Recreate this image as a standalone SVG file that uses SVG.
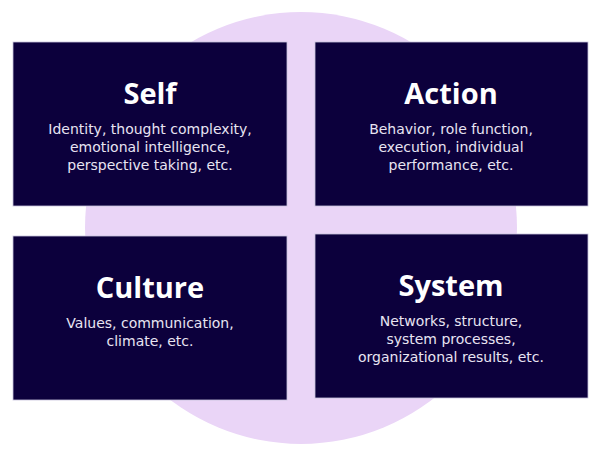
<svg xmlns="http://www.w3.org/2000/svg" width="600" height="455" viewBox="0 0 600 455">
<style>
.box{fill:#0c003c;stroke:#c9c3dc;stroke-width:0.8}
.t{font-family:"Open Sans","Liberation Sans",sans-serif;font-weight:bold;font-size:29px;fill:#fff;text-anchor:middle}
.b{font-family:"DejaVu Sans","Liberation Sans",sans-serif;font-size:14px;fill:#e8e4f2;text-anchor:middle}
</style>
<rect width="600" height="455" fill="#fff"/>
<circle cx="301" cy="228" r="216" fill="#ead5f7"/>
<g id="self"><rect class="box" x="13" y="42" width="274" height="164"/>
<text class="t" x="150" y="104">Self</text>
<text class="b" x="150" y="134">Identity, thought complexity,</text>
<text class="b" x="150" y="152">emotional intelligence,</text>
<text class="b" x="150" y="170">perspective taking, etc.</text></g>
<g id="action"><rect class="box" x="315" y="42" width="273" height="164"/>
<text class="t" x="451" y="104">Action</text>
<text class="b" x="451" y="134">Behavior, role function,</text>
<text class="b" x="451" y="152">execution, individual</text>
<text class="b" x="451" y="170">performance, etc.</text></g>
<g id="culture"><rect class="box" x="13" y="236" width="274" height="164"/>
<text class="t" x="150" y="298">Culture</text>
<text class="b" x="150" y="328">Values, communication,</text>
<text class="b" x="150" y="346">climate, etc.</text></g>
<g id="system"><rect class="box" x="315" y="234" width="273" height="164"/>
<text class="t" x="451" y="296">System</text>
<text class="b" x="451" y="326">Networks, structure,</text>
<text class="b" x="451" y="344">system processes,</text>
<text class="b" x="451" y="362">organizational results, etc.</text></g>
<g id="connectors"/>
</svg>
